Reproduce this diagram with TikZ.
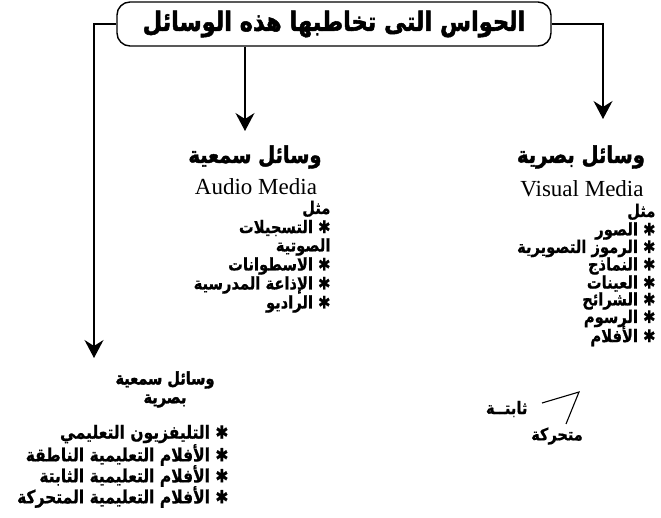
\documentclass[tikz,border=0pt]{standalone}
\usepackage{fontspec}
\usepackage{graphicx}
\usetikzlibrary{arrows.meta,positioning}
\newfontfamily\arabicfont[Script=Arabic,FakeBold=0.8]{DejaVu Sans Bold}
\newfontfamily\arabicheavy[Script=Arabic,FakeBold=2]{DejaVu Sans Bold}
\newfontfamily\latinfont{Liberation Serif}
\TeXXeTstate=1
\tikzset{>/.tip={Stealth[length=18pt,width=19pt,inset=6pt]}}
\newcommand\ar[1]{\scalebox{1}[1.18]{\arabicfont\beginR #1\endR}}
\newcommand\arh[1]{\scalebox{1}[1.18]{\arabicheavy\beginR #1\endR}}

\begin{document}
\begin{tikzpicture}[x=1pt,y=-1pt,line width=1.1pt,
  head/.style={inner sep=0pt,font=\fontsize{19.5}{21}\selectfont},
  subhead/.style={inner sep=0pt,font=\fontsize{14.5}{16}\selectfont},
  latin/.style={inner sep=0pt,font=\latinfont\fontsize{23}{25}\selectfont},
  item/.style={anchor=east,inner sep=0pt,font=\fontsize{14.7}{16}\selectfont},
  bigitem/.style={item,font=\fontsize{15.5}{17}\selectfont}]
  \useasboundingbox (0,0) rectangle (661,518);
  \node(title)[draw,line width=1.4pt,rounded corners=13pt,minimum width=434pt,
    minimum height=44pt,inner sep=0pt] at (334,24)
    {\fontsize{22.5}{24}\selectfont\arh{الحواس التى تخاطبها هذه الوسائل}};
  % arrow ends
  \coordinate(vtip) at (603,119);
  \coordinate(atip) at (245,131);
  \coordinate(avtip) at (94,358);
  \draw[->] (title.east) -| (vtip);
  \draw[->] (title.south -| atip) -- (atip);
  \draw[->] (title.west) -| (avtip);
  % visual media
  \node(vis)[head] at (581,157){\arh{وسائل بصرية}};
  \node(visen)[latin] at (582,189){Visual Media};
  \node(visex)[item] at (656,212){\ar{مثل}};
  \foreach \t [count=\i] in {الصور,الرموز التصويرية,النماذج,العينات,الشرائح,الرسوم,الأفلام}
    \node(v\i)[item] at (656,213.5+17.5*\i){\ar{✱ \t}};
  \node(fix)[item] at (528,409){\ar{ثابتــة}};
  \node(mov)[subhead] at (557,436){\ar{متحركة}};
  \coordinate(b1) at (542,403);
  \coordinate(b2) at (579,392);
  \coordinate(b3) at (566,424);
  \draw (b1) -- (b2) -- (b3);
  % audio media
  \node(aud)[head] at (255,157){\arh{وسائل سمعية}};
  \node(auden)[latin] at (256,187){Audio Media};
  \node(audex)[item] at (331,209){\ar{مثل}};
  \node(a1)[item] at (331,228){\ar{✱ التسجيلات}};
  \node(a1b)[item] at (331,247){\ar{الصوتية}};
  \node(a2)[item] at (331,266){\ar{✱ الاسطوانات}};
  \node(a3)[item] at (331,285){\ar{✱ الإذاعة المدرسية}};
  \node(a4)[item] at (331,304){\ar{✱ الراديو}};
  % audio-visual media
  \node(av)[subhead] at (165,380){\arh{وسائل سمعية}};
  \node(avb)[subhead] at (165,401){\arh{بصرية}};
  \node(av1)[bigitem] at (229,434){\ar{✱ التليفزيون التعليمي}};
  \node(av2)[bigitem] at (229,455){\ar{✱ الأفلام التعليمية الناطقة}};
  \node(av3)[bigitem] at (229,476){\ar{✱ الأفلام التعليمية الثابتة}};
  \node(av4)[bigitem] at (229,497){\ar{✱ الأفلام التعليمية المتحركة}};
\end{tikzpicture}
\end{document}
